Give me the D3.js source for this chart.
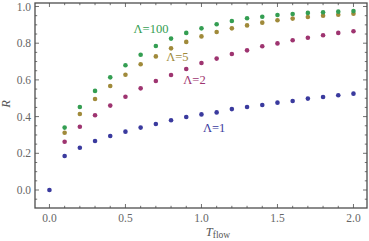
<!DOCTYPE html>
<html><head><meta charset="utf-8">
<script src="https://cdn.jsdelivr.net/npm/d3@7"></script>
<style>body{margin:0;background:#fff}svg{display:block}</style>
</head><body><svg id="c" width="369" height="241"></svg>
<script>
const tflow = [0,0.1,0.2,0.3,0.4,0.5,0.6,0.7,0.8,0.9,1.0,1.1,1.2,1.3,1.4,1.5,1.6,1.7,1.8,1.9,2.0];
const lambda1   = [0,0.185,0.23,0.267,0.294,0.318,0.34,0.36,0.38,0.398,0.412,0.423,0.441,0.452,0.463,0.476,0.485,0.498,0.507,0.516,0.525];
const lambda2   = [null,0.263,0.345,0.407,0.46,0.508,0.554,0.594,0.627,0.659,0.692,0.716,0.741,0.761,0.783,0.799,0.816,0.83,0.843,0.856,0.865];
const lambda5   = [null,0.312,0.414,0.496,0.567,0.628,0.685,0.728,0.772,0.807,0.837,0.861,0.881,0.897,0.912,0.925,0.934,0.943,0.95,0.955,0.961];
const lambda100 = [null,0.34,0.452,0.54,0.614,0.68,0.737,0.785,0.825,0.856,0.881,0.903,0.921,0.936,0.944,0.954,0.959,0.965,0.969,0.972,0.975];
const seriesNames = ["Λ=1","Λ=2","Λ=5","Λ=100"];
const xTicks = [0,0.5,1.0,1.5,2.0];
const yTicks = [0,0.2,0.4,0.6,0.8,1.0];

const FONT = "'Liberation Serif','Times New Roman','DejaVu Serif',serif";
const svg = d3.select("#c");
const x = d3.scaleLinear().domain([-0.095,2.089]).range([35,367]);
const y = d3.scaleLinear().domain([-0.098,1.019]).range([208,3]);
const frameCol = "#4d4d4d";

const series = [
  {vals: lambda1, col:"rgb(58,58,158)", name:seriesNames[0], lx:1.083, ly:0.342},
  {vals: lambda2, col:"rgb(158,52,112)", name:seriesNames[1], lx:0.954, ly:0.599},
  {vals: lambda5, col:"rgb(160,138,58)", name:seriesNames[2], lx:0.842, ly:0.725},
  {vals: lambda100, col:"rgb(52,158,82)", name:seriesNames[3], lx:0.668, ly:0.877}
];
series.forEach(s=>{
  svg.append("g").selectAll("circle").data(tflow.map((t,i)=>[t,s.vals[i]]).filter(d=>d[1]!==null))
    .join("circle").attr("cx",d=>x(d[0])).attr("cy",d=>y(d[1])).attr("r",2.3).attr("fill",s.col);
  svg.append("text").attr("x",x(s.lx)).attr("y",y(s.ly)).attr("dy","0.35em").attr("text-anchor","middle")
    .attr("font-family",FONT).attr("font-size",12.5).attr("fill",s.col).text(s.name);
});

svg.append("rect").attr("x",35).attr("y",3).attr("width",332).attr("height",205)
  .attr("fill","none").attr("stroke",frameCol).attr("stroke-width",1.3);

const xMinor = d3.range(0,2.01,0.1);
const yMinor = d3.range(-0.05,1.01,0.05);
const tg = svg.append("g").attr("stroke",frameCol).attr("stroke-width",0.8);
xMinor.forEach(v=>{
  const major = xTicks.some(t=>Math.abs(t-v)<1e-6);
  const L = major?4:2.2;
  tg.append("line").attr("x1",x(v)).attr("x2",x(v)).attr("y1",208).attr("y2",208-L);
  tg.append("line").attr("x1",x(v)).attr("x2",x(v)).attr("y1",3).attr("y2",3+L);
});
yMinor.forEach(v=>{
  const major = yTicks.some(t=>Math.abs(t-v)<1e-6);
  const L = major?4:2.2;
  tg.append("line").attr("y1",y(v)).attr("y2",y(v)).attr("x1",35).attr("x2",35+L);
  tg.append("line").attr("y1",y(v)).attr("y2",y(v)).attr("x1",367).attr("x2",367-L);
});

svg.append("g").selectAll("text").data(xTicks).join("text")
  .attr("x",d=>x(d)).attr("y",222).attr("text-anchor","middle").attr("font-family",FONT).attr("font-size",11.5).attr("fill","#666")
  .text(d=>d3.format(".1f")(d));
svg.append("g").selectAll("text").data(yTicks).join("text")
  .attr("x",31).attr("y",d=>y(d)).attr("dy","0.35em").attr("text-anchor","end").attr("font-family",FONT).attr("font-size",11.5).attr("fill","#666")
  .text(d=>d3.format(".1f")(d));

svg.append("text").attr("transform","translate(10,104) rotate(-90)").attr("text-anchor","middle")
  .attr("font-family",FONT).attr("font-size",12.5).attr("font-style","italic").attr("fill","#555").text("R");
const xl = svg.append("text").attr("x",218).attr("y",236).attr("text-anchor","middle").attr("font-family",FONT).attr("fill","#555");
xl.append("tspan").attr("font-size",12.5).attr("font-style","italic").text("T");
xl.append("tspan").attr("font-size",9.5).attr("dy",2).text("flow");
</script></body></html>
